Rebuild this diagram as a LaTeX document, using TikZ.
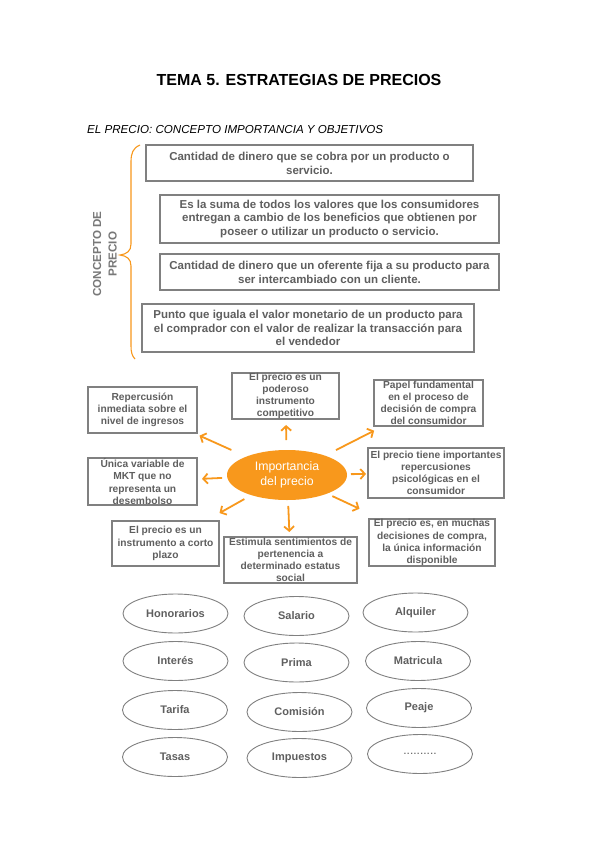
\documentclass[tikz,border=0pt]{standalone}
\usepackage{fontspec}
\setmainfont{Liberation Sans}
\usetikzlibrary{arrows.meta,shapes.geometric}
\definecolor{og}{RGB}{248,152,28}
\definecolor{bordergray}{RGB}{128,128,128}
\definecolor{txtgray}{RGB}{95,95,95}
\definecolor{lblgray}{RGB}{120,120,120}
\tikzset{
  cbox/.style={draw=bordergray, line width=1.3pt, rectangle, inner sep=0pt, align=center,
    text=txtgray, font=\bfseries\fontsize{11.5}{13.8}\selectfont},
  ibox/.style={draw=bordergray, line width=1.3pt, rectangle, inner sep=0pt, align=center,
    text=txtgray, font=\bfseries\fontsize{10.2}{12.2}\selectfont},
  oval/.style={draw=bordergray, line width=0.9pt, ellipse, inner sep=0pt,
    minimum width=105pt, minimum height=39pt, text=txtgray, font=\bfseries\fontsize{11}{13}\selectfont},
  arr/.style={draw=og, line width=1.8pt, -{Straight Barb[length=4.5pt,width=10pt]}},
}
\begin{document}
\begin{tikzpicture}[x=1pt,y=-1pt]
\useasboundingbox (0,0) rectangle (599,848);
\fill[white] (0,0) rectangle (599,848);

% titles
\node[font=\bfseries\fontsize{16}{18}\selectfont, anchor=center] (title) at (299,80) {TEMA 5. ESTRATEGIAS DE PRECIOS};
\node[font=\itshape\fontsize{11.6}{14}\selectfont, anchor=west, inner sep=0pt] (sub) at (87,130) {EL PRECIO: CONCEPTO IMPORTANCIA Y OBJETIVOS};

% concepto boxes
\node[cbox, minimum width=327pt, minimum height=36pt] (c1) at (309.5,163) {Cantidad de dinero que se cobra por un producto o\\servicio.};
\node[cbox, minimum width=339pt, minimum height=48pt] (c2) at (329.5,219) {Es la suma de todos los valores que los consumidores\\entregan a cambio de los beneficios que obtienen por\\poseer o utilizar un producto o servicio.};
\node[cbox, minimum width=339pt, minimum height=36pt] (c3) at (329.5,272) {Cantidad de dinero que un oferente fija a su producto para\\ser intercambiado con un cliente.};
\node[cbox, minimum width=332pt, minimum height=48pt] (c4) at (308,328) {Punto que iguala el valor monetario de un producto para\\el comprador con el valor de realizar la transacción para\\el vendedor};

% brace
\draw[og, line width=1.1pt] (140,145) .. controls (133,148) and (131,153) .. (131,162)
  -- (131,244) .. controls (131,251) and (127,254) .. (120,255)
  .. controls (127,256) and (131,259) .. (131,266)
  -- (131,346) .. controls (131,352) and (132,356) .. (135,359);
\node[rotate=90, align=center, text=lblgray, font=\bfseries\fontsize{11.6}{15.5}\selectfont] (lbl) at (105,254) {CONCEPTO DE\\PRECIO};

% importancia
\node[ellipse, fill=og, minimum width=120pt, minimum height=50pt, inner sep=0pt, align=center,
  text=white, font=\fontsize{12.3}{15}\selectfont] (imp) at (287,475) {Importancia\\del precio};

\node[ibox, minimum width=109pt, minimum height=46pt] (rep) at (142.5,410) {Repercusión\\inmediata sobre el\\nivel de ingresos};
\node[ibox, minimum width=107pt, minimum height=46pt] (comp) at (285.5,396) {El precio es un\\poderoso\\instrumento\\competitivo};
\node[ibox, minimum width=109pt, minimum height=46pt] (pap) at (428.5,403) {Papel fundamental\\en el proceso de\\decisión de compra\\del consumidor};
\node[ibox, minimum width=136pt, minimum height=50pt] (psi) at (436,473) {El precio tiene importantes\\repercusiones\\psicológicas en el\\consumidor};
\node[ibox, minimum width=109pt, minimum height=47pt] (uni) at (142.5,481.5) {Única variable de\\MKT que no\\representa un\\desembolso};
\node[ibox, minimum width=107pt, minimum height=45pt] (cor) at (165.5,543.5) {El precio es un\\instrumento a corto\\plazo};
\node[ibox, minimum width=133pt, minimum height=46pt] (est) at (290.5,560) {Estimula sentimientos de\\pertenencia a\\determinado estatus\\social};
\node[ibox, minimum width=126pt, minimum height=47pt] (muc) at (432,542.5) {El precio es, en muchas\\decisiones de compra,\\la única información\\disponible};

\draw[arr, shorten <=61pt, shorten >=62.5pt] (imp.center) -- (rep.center);
\draw[arr, shorten <=35pt, shorten >=29pt] (imp.center) -- (comp.center);
\draw[arr, shorten <=55pt, shorten >=61pt] (imp.center) -- (pap.center);
\draw[arr, shorten <=65pt, shorten >=59.6pt] (imp.center) -- (uni.center);
\draw[arr, shorten <=64pt, shorten >=70pt] (imp.center) -- (psi.center);
\draw[arr, shorten <=49pt, shorten >=62pt] (imp.center) -- (cor.center);
\draw[arr, shorten <=31pt, shorten >=28pt] (imp.center) -- (est.center);
\draw[arr, shorten <=50pt, shorten >=80pt] (imp.center) -- (muc.center);

% ovals
\node[oval] (o1) at (175.5,613.5) {Honorarios};
\node[oval] (o2) at (296.5,616) {Salario};
\node[oval] (o3) at (415.5,612.5) {Alquiler};
\node[oval] (o4) at (175.5,661) {Interés};
\node[oval] (o5) at (296.5,662.5) {Prima};
\node[oval] (o6) at (418,661) {Matricula};
\node[oval] (o7) at (175,710) {Tarifa};
\node[oval] (o8) at (299.5,712) {Comisión};
\node[oval] (o9) at (419,708) {Peaje};
\node[oval] (o10) at (175,757) {Tasas};
\node[oval] (o11) at (299.5,758) {Impuestos};
\node[oval] (o12) at (420,754) {\mdseries\fontsize{12}{13}\selectfont..........};
\end{tikzpicture}
\end{document}
